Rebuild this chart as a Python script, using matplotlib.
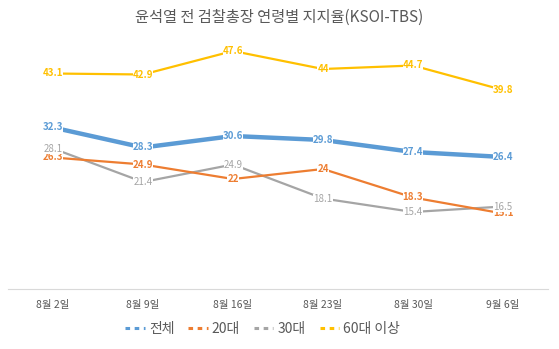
import matplotlib
matplotlib.use("Agg")
import matplotlib.pyplot as plt
from matplotlib.lines import Line2D

plt.rcParams['font.family'] = ['Noto Sans CJK KR', 'DejaVu Sans']

categories = ["8월 2일", "8월 9일", "8월 16일", "8월 23일", "8월 30일", "9월 6일"]
series_names = ["전체", "20대", "30대", "60대 이상"]
total = [32.3, 28.3, 30.6, 29.8, 27.4, 26.4]
age20 = [26.3, 24.9, 22, 24, 18.3, 15.1]
age30 = [28.1, 21.4, 24.9, 18.1, 15.4, 16.5]
age60 = [43.1, 42.9, 47.6, 44, 44.7, 39.8]

colors = ["#5B9BD5", "#ED7D31", "#A5A5A5", "#FFC000"]
widths = [3.2, 1.6, 1.6, 1.6]
data = [total, age20, age30, age60]

fig = plt.figure(figsize=(5.59, 3.49), dpi=100)
ax = fig.add_axes([8/559, 1 - 289/349, 540/559, 250/349])
x = list(range(len(categories)))
for i, (vals, c, w, z) in enumerate(zip(data, colors, widths, [5, 3, 2, 4])):
    ax.plot(x, vals, color=c, linewidth=w, zorder=z, solid_capstyle='round')
    for xi, v in zip(x, vals):
        txt = f"{v:g}"
        ax.text(xi, v, txt, ha='center', va='center', fontsize=7, color=c,
                fontweight='bold' if c != "#A5A5A5" else 'normal',
                bbox=dict(boxstyle='square,pad=0.0', fc='white', ec='none'),
                zorder=10 + i)

ax.set_xlim(-0.5, 5.5)
ax.set_ylim(0, 50)
ax.set_xticks(x)
ax.set_xticklabels(categories, fontsize=7.5, color="#595959")
ax.tick_params(axis='x', length=0, pad=8)
ax.set_yticks([])
for s in ['top', 'right', 'left']:
    ax.spines[s].set_visible(False)
ax.spines['bottom'].set_color('#D9D9D9')
ax.spines['bottom'].set_linewidth(0.8)

fig.text(0.5, 1 - 17/349, "윤석열 전 검찰총장 연령별 지지율(KSOI-TBS)", ha='center', va='center',
         fontsize=11, color="#595959")

handles = [Line2D([0], [0], color=c, linewidth=2.2, linestyle=(0, (1.5, 1.5))) for c in colors]
fig.legend(handles, series_names, loc='center', bbox_to_anchor=(0.47, 1 - 329/349), ncol=4,
           frameon=False, fontsize=10, handlelength=1.4, columnspacing=1.0, handletextpad=0.3,
           labelcolor="#595959")

fig.savefig("out.png", dpi=100)
